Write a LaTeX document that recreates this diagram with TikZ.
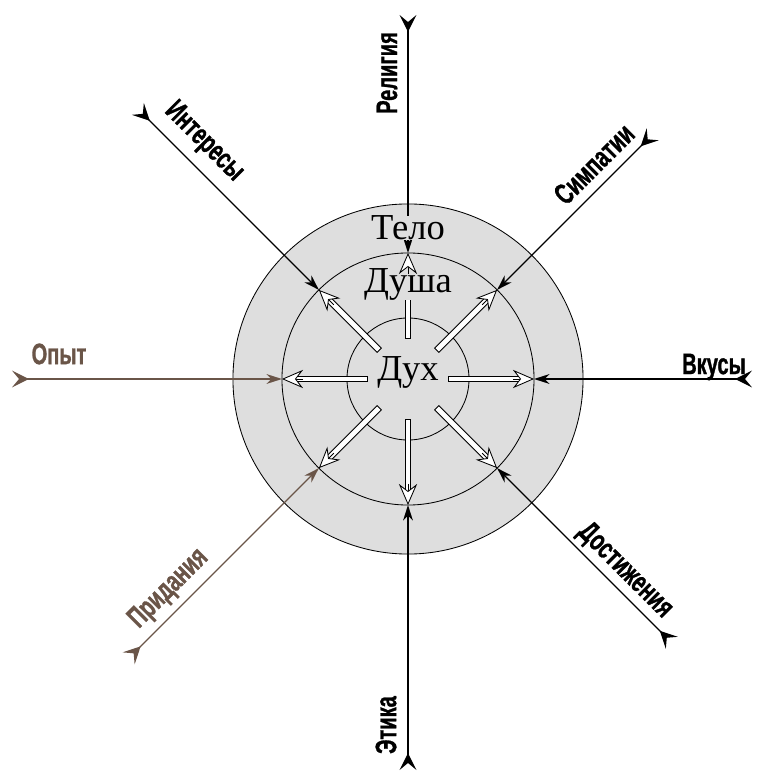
\documentclass[tikz,border=0pt]{standalone}
\usepackage{fontspec}
\setmainfont{Liberation Serif}
\newfontfamily\labelfont[FakeStretch=0.68,FakeBold=1]{Liberation Sans Bold}
\usetikzlibrary{arrows.meta,calc}
\definecolor{dgray}{HTML}{DEDEDE}
\definecolor{dbrown}{HTML}{6A5548}
\tikzset{
  ring/.style={circle,draw=black,line width=0.6pt,inner sep=0pt,outer sep=0pt},
  inarr/.style={{Stealth[reversed,length=12pt,width=12pt,inset=5pt]}-{Stealth[length=11pt,width=7pt]},line width=1pt},
  wborder/.style={line width=4.8pt,draw=black},
  wfill/.style={line width=3.4pt,draw=white,shorten <=0.7pt},
  whead/.style={-{Stealth[length=15pt,width=13pt,inset=5pt,fill=white]},line width=0.6pt,draw=black},
  word/.style={fill=dgray,inner sep=0pt,font=\fontsize{26}{29}\selectfont},
  lbl/.style={font=\labelfont\fontsize{21}{24}\selectfont,inner sep=0pt},
}
\begin{document}
\begin{tikzpicture}[x=0.025cm,y=0.025cm]
\useasboundingbox (-408,-401) rectangle (348,379);
% circles
\node[ring,fill=dgray,minimum size=8.75cm] (outer) at (0,0) {};
\node[ring,minimum size=6.3cm] (mid) at (0,0) {};
\node[ring,minimum size=3.05cm] (inner) at (0,0) {};
\node[circle,inner sep=0pt,minimum size=2cm] (core) at (0,0) {};
% white arrows from the centre
\foreach \a in {0,45,...,315}{
  \coordinate (hs\a) at ($(mid.\a)!10pt!(core.\a)$);
  \draw[wborder] (core.\a) -- (hs\a);
  \draw[wfill] (core.\a) -- (hs\a);
}
% incoming arrows
\foreach \n/\a/\len/\c in {rel/90/364/black,sym/45/346/black,vku/0/344/black,dos/-45/373/black,
    eti/-90/391/black,pri/-135/395/dbrown,opy/180/396/dbrown,int/135/382/black}{
  \coordinate (t-\n) at (\a:\len);
  \draw[inarr,draw=\c] (t-\n) -- (mid.\a);
}
% words in the rings
\node[word] (telo) at (0,151) {Тело};
\node[word] (dusha) at (0,95) {Душа};
\node[word] (dukh) at (0,7) {Дух};
\foreach \a in {0,45,...,315}
  \draw[whead] ($(mid.\a)!15pt!(core.\a)$) -- (mid.\a);
% labels
\node[lbl,rotate=90] (l-rel) at (-21,306) {Религия};
\node[lbl,rotate=-45] (l-int) at (-204,237) {Интересы};
\node[lbl,rotate=45] (l-sym) at (186,215) {Симпатии};
\node[lbl,text=dbrown] (l-opy) at (-349,25) {Опыт};
\node[lbl] (l-vku) at (306,12) {Вкусы};
\node[lbl,rotate=-45] (l-dos) at (217,-192) {Достижения};
\node[lbl,rotate=90] (l-eti) at (-22,-346) {Этика};
\node[lbl,rotate=45,text=dbrown] (l-pri) at (-239,-210) {Придания};
\end{tikzpicture}
\end{document}
